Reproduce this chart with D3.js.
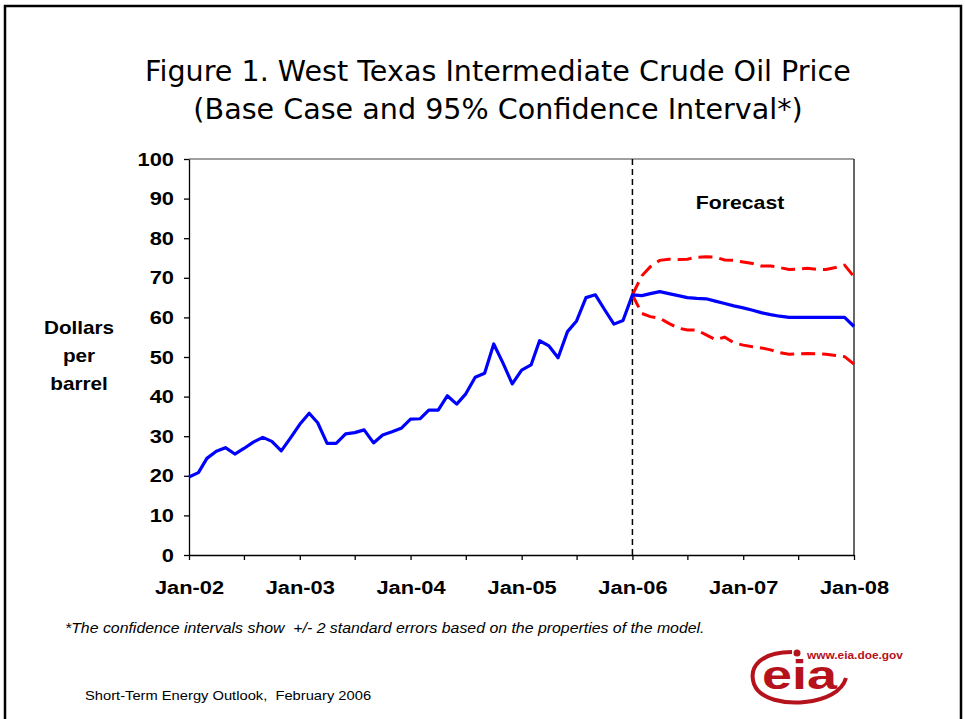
<!doctype html>
<html lang="en">
<head>
	<meta charset="UTF-8">
	<title>WTI Crude Oil Price</title>
	<script src="https://d3js.org/d3.v7.min.js"></script>
	<style>
		body {
			margin: 0;
			padding: 0;
			background: #fff;
		}
		svg text {
			font-family: "Liberation Sans", Arial, sans-serif;
		}
	</style>
</head>
<body>
	<div id="chart"></div>

	<script>
		// Monthly history, Jan-02 .. Dec-05
		const history = [
			19.7, 20.8, 24.4, 26.2, 27.1, 25.5, 26.9, 28.5, 29.7, 28.7, 26.3, 29.5,
			33.0, 35.8, 33.4, 28.2, 28.2, 30.6, 30.9, 31.6, 28.3, 30.3, 31.1, 32.0,
			34.3, 34.4, 36.6, 36.6, 40.2, 38.1, 40.7, 44.9, 45.9, 53.3, 48.4, 43.2,
			46.7, 48.0, 54.1, 52.8, 49.8, 56.4, 59.1, 65.0, 65.7, 62.0, 58.3, 59.2
		];

		// Forecast, Jan-06 .. Jan-08
		const baseCase = [
			65.7, 65.5, 66.0, 66.5, 66.0, 65.5, 65.0, 64.8, 64.7, 64.1, 63.5, 62.9,
			62.4, 61.8, 61.2, 60.7, 60.3, 60.0, 60.0, 60.0, 60.0, 60.0, 60.0, 60.0,
			57.7
		];
		const upperBand = [
			65.7, 70.5, 72.8, 74.4, 74.7, 74.6, 74.7, 75.2, 75.3, 75.2, 74.5, 74.4,
			74.0, 73.6, 73.0, 73.0, 72.6, 72.1, 72.2, 72.4, 72.1, 72.1, 72.6, 73.2,
			70.3
		];
		const lowerBand = [
			65.7, 61.0, 60.2, 59.8, 58.5, 57.3, 56.8, 56.8, 55.6, 54.4, 55.0, 53.6,
			53.0, 52.6, 52.3, 51.8, 51.1, 50.7, 50.8, 50.9, 50.8, 50.7, 50.4, 50.1,
			48.2
		];

		const yTicks = [0, 10, 20, 30, 40, 50, 60, 70, 80, 90, 100];
		const xLabels = ['Jan-02', 'Jan-03', 'Jan-04', 'Jan-05', 'Jan-06', 'Jan-07', 'Jan-08'];

		const width = 965;
		const height = 719;

		// plot box
		const plotLeft = 189, plotRight = 854, plotTop = 159, plotBottom = 555;

		// the slide text is a bit wider than plain Arial
		const wide = 1.15;

		const monthDate = (start, i) => new Date(start + Math.floor(i / 12), i % 12, 1);

		// stretch text horizontally around its anchor point
		function stretch(sel, k) {
			sel.each(function() {
				const b = this.getBBox();
				const anchor = getComputedStyle(this).textAnchor;
				const ax = anchor === 'middle' ? b.x + b.width / 2 : anchor === 'end' ? b.x + b.width : b.x;
				d3.select(this).attr('transform',
					'translate(' + ax + ',0) scale(' + k + ',1) translate(' + (-ax) + ',0)');
			});
		}

		const x = d3.scaleTime()
			.domain([new Date(2002, 0, 1), new Date(2008, 0, 1)])
			.range([plotLeft, plotRight]);

		const y = d3.scaleLinear()
			.domain([0, 100])
			.range([plotBottom, plotTop]);

		const svg = d3.select('#chart')
			.append('svg')
			.attr('width', width)
			.attr('height', height);

		// outer slide frame
		svg.append('path')
			.attr('d', 'M5,722 V6 H961 V722')
			.attr('fill', 'none')
			.attr('stroke', '#000')
			.attr('stroke-width', 2.5);

		// Title
		const title = svg.append('text')
			.attr('x', 498)
			.attr('text-anchor', 'middle')
			.attr('font-size', 28.6)
			.style('font-family', '"DejaVu Sans", Verdana, sans-serif')
			.attr('fill', '#000');
		title.append('tspan').attr('x', 498).attr('y', 81)
			.text('Figure 1. West Texas Intermediate Crude Oil Price');
		title.append('tspan').attr('x', 498).attr('y', 119)
			.text('(Base Case and 95% Confidence Interval*)');

		// plot frame top + right
		svg.append('line')
			.attr('x1', plotLeft).attr('x2', plotRight)
			.attr('y1', plotTop).attr('y2', plotTop)
			.attr('stroke', '#808080').attr('stroke-width', 1.5);
		svg.append('line')
			.attr('x1', plotRight).attr('x2', plotRight)
			.attr('y1', plotTop).attr('y2', plotBottom)
			.attr('stroke', '#000').attr('stroke-width', 1.2);

		// Y axis
		const yAxis = svg.append('g')
			.attr('transform', 'translate(' + plotLeft + ',0)')
			.call(d3.axisLeft(y).tickValues(yTicks).tickSize(5).tickSizeOuter(0).tickPadding(10));

		yAxis.selectAll('text')
			.attr('font-size', 19)
			.attr('font-weight', 'bold')
			.attr('fill', '#000')
			.style('font-family', '"Liberation Sans", Arial, sans-serif')
			.call(stretch, wide);

		// X axis, ticks every 6 months
		const xTickDates = d3.range(0, 13).map((i) => new Date(2002, i * 6, 1));
		const xAxis = svg.append('g')
			.attr('transform', 'translate(0,' + plotBottom + ')')
			.call(d3.axisBottom(x).tickValues(xTickDates).tickSize(5).tickSizeOuter(0)
				.tickFormat((d) => d.getMonth() === 0 ? xLabels[d.getFullYear() - 2002] : '')
				.tickPadding(21));

		xAxis.selectAll('text')
			.attr('font-size', 19)
			.attr('font-weight', 'bold')
			.attr('fill', '#000')
			.style('font-family', '"Liberation Sans", Arial, sans-serif')
			.call(stretch, wide);

		svg.selectAll('.domain, .tick line')
			.attr('stroke', '#000')
			.attr('stroke-width', 1.3);

		// Forecast divider
		svg.append('line')
			.attr('x1', x(new Date(2006, 0, 1))).attr('x2', x(new Date(2006, 0, 1)))
			.attr('y1', plotTop).attr('y2', plotBottom)
			.attr('stroke', '#000')
			.attr('stroke-width', 1.5)
			.attr('stroke-dasharray', '6,4');

		const line = d3.line()
			.x((d) => x(d.date))
			.y((d) => y(d.value));

		const histData = history.map((v, i) => ({ date: monthDate(2002, i), value: v }));
		const baseData = baseCase.map((v, i) => ({ date: monthDate(2006, i), value: v }));
		const upData = upperBand.map((v, i) => ({ date: monthDate(2006, i), value: v }));
		const lowData = lowerBand.map((v, i) => ({ date: monthDate(2006, i), value: v }));

		// Confidence interval lines
		[upData, lowData].forEach((d) => {
			svg.append('path')
				.datum(d)
				.attr('d', line)
				.attr('fill', 'none')
				.attr('stroke', '#ff0000')
				.attr('stroke-width', 3)
				.attr('stroke-dasharray', '14,7');
		});

		// Base case and history
		svg.append('path')
			.datum(histData.concat(baseData))
			.attr('d', line)
			.attr('fill', 'none')
			.attr('stroke', '#0000ff')
			.attr('stroke-width', 3.2)
			.attr('stroke-linejoin', 'round');

		// Forecast label
		svg.append('text')
			.attr('x', 740)
			.attr('y', 209)
			.attr('text-anchor', 'middle')
			.attr('font-size', 18.5)
			.attr('font-weight', 'bold')
			.text('Forecast')
			.call(stretch, wide);

		// Y label
		const yLabel = svg.append('text')
			.attr('text-anchor', 'middle')
			.attr('font-size', 18)
			.attr('font-weight', 'bold');
		['Dollars', 'per', 'barrel'].forEach((t, i) => {
			yLabel.append('tspan')
				.attr('x', 79)
				.attr('y', 334 + i * 28)
				.text(t);
		});
		yLabel.call(stretch, wide);

		// Footnote
		svg.append('text')
			.attr('x', 65)
			.attr('y', 633)
			.attr('font-size', 13.8)
			.attr('font-style', 'italic')
			.style('white-space', 'pre')
			.text('*The confidence intervals show  +/- 2 standard errors based on the properties of the model.')
			.call(stretch, wide);

		// Source
		svg.append('text')
			.attr('x', 85)
			.attr('y', 700)
			.attr('font-size', 12.8)
			.style('white-space', 'pre')
			.text('Short-Term Energy Outlook,  February 2006')
			.call(stretch, wide);

		// EIA logo
		const logoRed = '#b5121b';
		const logo = svg.append('g');
		logo.append('path')
			.attr('d', 'M792,652 C762,652 748,666 754,684 C760,700 785,704 805,702 C825,700 842,692 846,678')
			.attr('fill', 'none')
			.attr('stroke', logoRed)
			.attr('stroke-width', 4);
		logo.append('circle')
			.attr('cx', 797).attr('cy', 653).attr('r', 3.5)
			.attr('fill', logoRed);
		logo.append('text')
			.attr('x', 762)
			.attr('y', 689)
			.attr('font-size', 40)
			.attr('font-weight', 'bold')
			.attr('fill', logoRed)
			.attr('textLength', 75)
			.attr('lengthAdjust', 'spacingAndGlyphs')
			.text('eia');
		logo.append('text')
			.attr('x', 807)
			.attr('y', 659)
			.attr('font-size', 11)
			.attr('font-weight', 'bold')
			.attr('fill', logoRed)
			.text('www.eia.doe.gov')
			.call(stretch, 1.08);
	</script>
</body>
</html>
